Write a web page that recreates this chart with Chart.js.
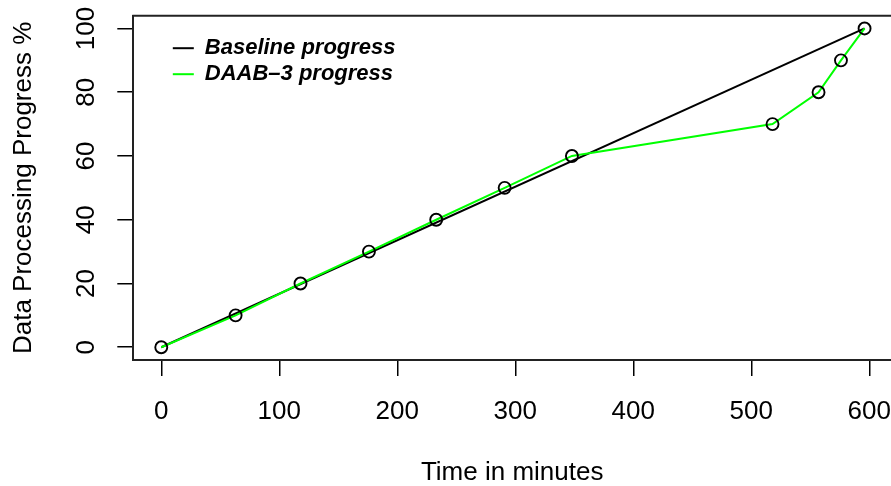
<!DOCTYPE html>
<html>
<head>
<meta charset="utf-8">
<script src="https://cdn.jsdelivr.net/npm/chart.js@4.4.0/dist/chart.umd.min.js"></script>
<style>
  html, body { margin: 0; padding: 0; background: #fff; }
</style>
</head>
<body>
<canvas id="progressChart" width="891" height="486"></canvas>
<script>
// progress checkpoints: minutes elapsed vs percent done
const baselineMinutes = [0, 596];
const baselineProgress = [0, 100];
const daabMinutes = [0, 63, 118, 176, 233, 291, 348, 518, 557, 576, 596];
const daabProgress = [0, 10, 20, 30, 40, 50, 60, 70, 80, 90, 100];
const xTicks = [0, 100, 200, 300, 400, 500, 600];
const yTicks = [0, 20, 40, 60, 80, 100];
const seriesNames = ['Baseline progress', 'DAAB–3 progress'];

const FONT = "'Liberation Sans', Arial, Helvetica, sans-serif";
Chart.defaults.font.family = FONT;
Chart.defaults.font.size = 26;
Chart.defaults.color = '#000';

const toPoints = (xs, ys) => xs.map((x, i) => ({ x: x, y: ys[i] }));

// legend drawn inside the plot, top left
const innerLegend = {
  id: 'innerLegend',
  afterDatasetsDraw(chart) {
    const ctx = chart.ctx;
    const left = chart.chartArea.left + 39.5;
    let y = chart.chartArea.top + 32.5;
    ctx.save();
    ctx.font = 'italic bold 22px ' + FONT;
    ctx.textBaseline = 'middle';
    chart.data.datasets.forEach(ds => {
      ctx.strokeStyle = ds.borderColor;
      ctx.lineWidth = 2;
      ctx.beginPath();
      ctx.moveTo(left, y);
      ctx.lineTo(left + 21, y);
      ctx.stroke();
      ctx.fillStyle = '#000';
      ctx.fillText(ds.label, left + 32, y);
      y += 26;
    });
    ctx.restore();
  }
};

// top edge of the box (left and bottom come from the axis borders)
const boxTop = {
  id: 'boxTop',
  afterDraw(chart) {
    const { ctx, chartArea } = chart;
    ctx.save();
    ctx.strokeStyle = '#222';
    ctx.lineWidth = 2;
    ctx.beginPath();
    ctx.moveTo(chartArea.left - 1, chartArea.top);
    ctx.lineTo(chartArea.right + 2, chartArea.top);
    ctx.stroke();
    ctx.restore();
  }
};

const keepTicks = list => scale => {
  scale.ticks = list.map(v => ({ value: v }));
};

const ctx = document.getElementById('progressChart').getContext('2d');
const chart = new Chart(ctx, {
  type: 'line',
  data: {
    datasets: [{
      label: seriesNames[0],
      data: toPoints(baselineMinutes, baselineProgress),
      borderColor: '#000000',
      borderWidth: 2,
      pointRadius: 0,
      order: 1
    }, {
      label: seriesNames[1],
      data: toPoints(daabMinutes, daabProgress),
      borderColor: '#00ff00',
      borderWidth: 2,
      pointRadius: 6,
      pointBorderWidth: 1.9,
      pointBorderColor: '#000000',
      pointBackgroundColor: 'rgba(0,0,0,0)',
      order: 0
    }]
  },
  options: {
    responsive: false,
    animation: false,
    layout: { autoPadding: false, padding: { top: 15.7, right: 0, bottom: 0, left: 0 } },
    elements: { line: { tension: 0 } },
    plugins: {
      legend: { display: false },
      tooltip: { enabled: false }
    },
    scales: {
      x: {
        type: 'linear',
        min: -23.7,
        max: 618.4,
        afterBuildTicks: keepTicks(xTicks),
        afterFit(scale) {
          scale.height = 126;
          scale.paddingLeft = 0;
          scale.paddingRight = 0;
        },
        border: { display: true, color: '#222', width: 2 },
        grid: { drawOnChartArea: false, drawTicks: true, tickLength: 16, color: '#000', lineWidth: 1.5 },
        ticks: { padding: 20, maxRotation: 0 },
        title: {
          display: true,
          text: 'Time in minutes',
          font: { lineHeight: 1 },
          padding: { top: 0, bottom: 0 }
        }
      },
      y: {
        type: 'linear',
        min: -4,
        max: 104,
        afterBuildTicks: keepTicks(yTicks),
        afterFit(scale) {
          scale.width = 133.3;
          scale.paddingTop = 0;
          scale.paddingBottom = 0;
        },
        border: { display: true, color: '#222', width: 2 },
        grid: { drawOnChartArea: false, drawTicks: true, tickLength: 16, color: '#000', lineWidth: 1.5 },
        ticks: { padding: 9, minRotation: 90, maxRotation: 90, crossAlign: 'center' },
        title: { display: true, text: 'Data Processing Progress %', padding: { top: 8, bottom: 0 } }
      }
    }
  },
  plugins: [innerLegend, boxTop]
});
</script>
</body>
</html>
